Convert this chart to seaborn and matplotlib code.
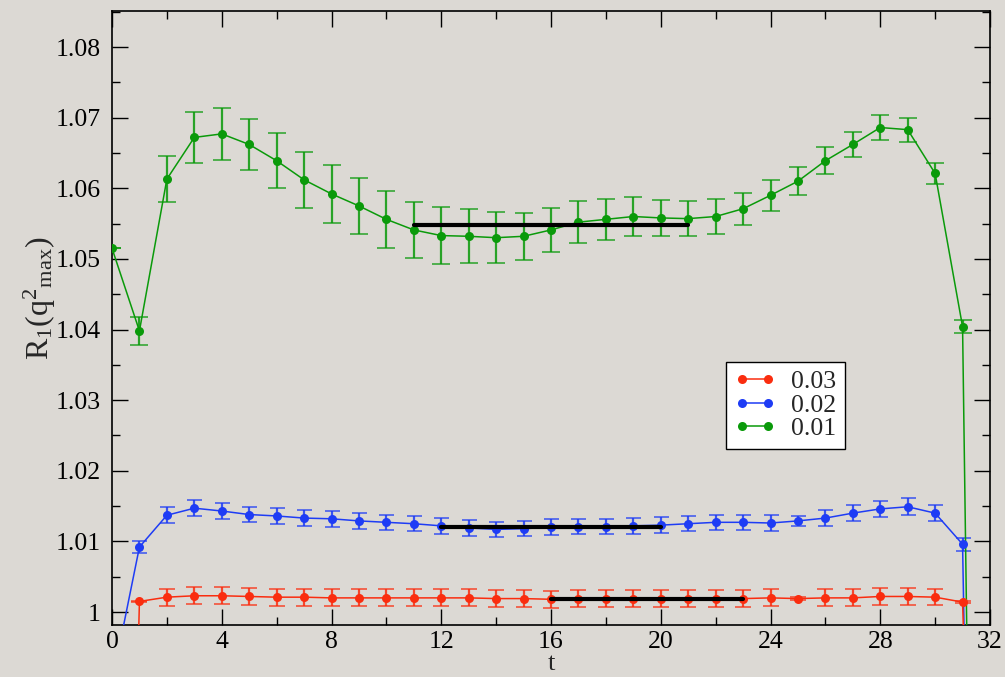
import numpy as np
import pandas as pd
import matplotlib
matplotlib.use("Agg")
import matplotlib.pyplot as plt
from matplotlib.ticker import MultipleLocator, FuncFormatter
import seaborn as sns

# ---------------- data ----------------
t = list(range(33))

labels = ["0.03", "0.02", "0.01"]

r_vals = [0.85, 1.0015, 1.0021, 1.0023, 1.0023, 1.0022, 1.0021, 1.0021, 1.0020, 1.0020,
          1.0020, 1.0020, 1.0020, 1.0020, 1.0019, 1.0019, 1.0018, 1.0019, 1.0019, 1.0019,
          1.0019, 1.0019, 1.0019, 1.0019, 1.0020, 1.0019, 1.0020, 1.0020, 1.0022, 1.0022,
          1.0021, 1.0014, 0.88]
r_errs = [0.0, 0.0001, 0.0012, 0.0012, 0.0012, 0.0012, 0.0012, 0.0012, 0.0012, 0.0012,
          0.0012, 0.0012, 0.0012, 0.0012, 0.0012, 0.0012, 0.0012, 0.0012, 0.0012, 0.0012,
          0.0012, 0.0012, 0.0012, 0.0012, 0.0012, 0.0002, 0.0012, 0.0012, 0.0012, 0.0012,
          0.0011, 0.0001, 0.0]

b_vals = [0.990, 1.0092, 1.0137, 1.0147, 1.0143, 1.0138, 1.0136, 1.0133, 1.0132, 1.0129,
          1.0127, 1.0125, 1.0122, 1.0119, 1.0117, 1.0118, 1.0120, 1.0121, 1.0121, 1.0122,
          1.0123, 1.0125, 1.0127, 1.0127, 1.0126, 1.0129, 1.0133, 1.0140, 1.0146, 1.0149,
          1.0140, 1.0096, 0.79]
b_errs = [0.0, 0.0008, 0.0011, 0.0011, 0.0011, 0.0011, 0.0011, 0.0011, 0.0011, 0.0011,
          0.0011, 0.0011, 0.0011, 0.0011, 0.0011, 0.0011, 0.0011, 0.0011, 0.0011, 0.0011,
          0.0011, 0.0011, 0.0011, 0.0011, 0.0011, 0.0007, 0.0011, 0.0011, 0.0011, 0.0012,
          0.0011, 0.0009, 0.0]

g_vals = [1.0515, 1.0398, 1.0613, 1.0672, 1.0677, 1.0662, 1.0639, 1.0612, 1.0592, 1.0575,
          1.0556, 1.0541, 1.0533, 1.0532, 1.0530, 1.0532, 1.0541, 1.0552, 1.0556, 1.0560,
          1.0558, 1.0557, 1.0560, 1.0571, 1.0590, 1.0610, 1.0639, 1.0662, 1.0686, 1.0683,
          1.0621, 1.0404, 0.76]
g_errs = [0.0, 0.0020, 0.0032, 0.0036, 0.0037, 0.0036, 0.0039, 0.0040, 0.0041, 0.0040,
          0.0040, 0.0040, 0.0040, 0.0038, 0.0036, 0.0033, 0.0031, 0.0030, 0.0029, 0.0027,
          0.0025, 0.0025, 0.0025, 0.0023, 0.0022, 0.0020, 0.0019, 0.0018, 0.0018, 0.0017,
          0.0015, 0.0009, 0.0]

# plateau fits (start t, end t, value) for 0.03, 0.02, 0.01
fit_start = [16, 12, 11]
fit_end = [23, 20, 21]
fit_value = [1.0019, 1.0120, 1.0548]

x_ticks = [0, 4, 8, 12, 16, 20, 24, 28, 32]
y_ticks = [1.00, 1.01, 1.02, 1.03, 1.04, 1.05, 1.06, 1.07, 1.08]

# ---------------- style ----------------
sns.set_theme(style="ticks")
plt.rcParams["font.family"] = ["Liberation Serif", "DejaVu Serif"]
plt.rcParams["mathtext.fontset"] = "custom"
plt.rcParams["mathtext.rm"] = "Liberation Serif"
plt.rcParams["mathtext.it"] = "Liberation Serif:italic"

bg = "#dcd9d4"
colors = ["#fa2d0f", "#1e3cf5", "#0a9a0a"]
capsizes = [6.0, 5.4, 6.4]
elws = [1.6, 1.6, 1.6]

fig = plt.figure(figsize=(10.05, 6.77), dpi=100, facecolor=bg)
ax = fig.add_axes([112 / 1005, 1 - 625 / 677, 878 / 1005, 614 / 677])
ax.set_facecolor(bg)

series = [(r_vals, r_errs), (b_vals, b_errs), (g_vals, g_errs)]
handles = []
for i in [2, 1, 0]:
    vals, errs = series[i]
    ax.errorbar(t, vals, yerr=errs, fmt="none", ecolor=colors[i], elinewidth=elws[i],
                capsize=capsizes[i], capthick=1.1, alpha=0.85, zorder=2)
    sns.lineplot(x=t, y=vals, ax=ax, color=colors[i], marker="o", markersize=6.5,
                 markeredgewidth=0, linewidth=1.1, zorder=3, sort=False,
                 errorbar=None, legend=False)
    line = ax.lines[-1]
    line.set_label(labels[i])
    handles.append(line)

for s, e, v in zip(fit_start, fit_end, fit_value):
    sns.lineplot(x=[s, e], y=[v, v], ax=ax, color="black", linewidth=3.0, zorder=5,
                 legend=False, errorbar=None)

ax.set_xlim(0, 32)
ax.set_ylim(0.99816, 1.0851)
ax.set_xticks(x_ticks)
ax.set_yticks(y_ticks)
ax.xaxis.set_minor_locator(MultipleLocator(2))
ax.yaxis.set_minor_locator(MultipleLocator(0.005))
ax.yaxis.set_major_formatter(FuncFormatter(lambda v, p: "%g" % round(v, 4)))
ax.tick_params(which="both", direction="in", top=True, right=True, colors="black",
               labelsize=18.5, width=1.0)
ax.tick_params(which="major", length=11.5)
ax.tick_params(which="minor", length=5.8)
ax.tick_params(axis="x", pad=4)
ax.tick_params(axis="y", pad=8)
for sp in ax.spines.values():
    sp.set_linewidth(1.2)
    sp.set_color("black")

ax.set_xlabel("t", fontsize=19, labelpad=0)
ax.set_ylabel(r"R$_{\rm 1}$(q$^{\rm 2}{}_{\rm max}$)", fontsize=23)
ax.yaxis.set_label_coords((58 - 112) / 878, (625 - 298) / 614)

leg_handles = [handles[2], handles[1], handles[0]]
leg = ax.legend(leg_handles, labels, numpoints=2, loc="upper left",
                bbox_to_anchor=((726 - 112) / 878, (625 - 362) / 614),
                borderaxespad=0, frameon=True, fancybox=False, framealpha=1,
                facecolor="white", edgecolor="black", fontsize=18.5,
                handlelength=1.6, handletextpad=0.6, labelspacing=0.02,
                borderpad=0.33)
leg.get_frame().set_linewidth(1.0)

fig.savefig("out.png", dpi=100, facecolor=bg)
